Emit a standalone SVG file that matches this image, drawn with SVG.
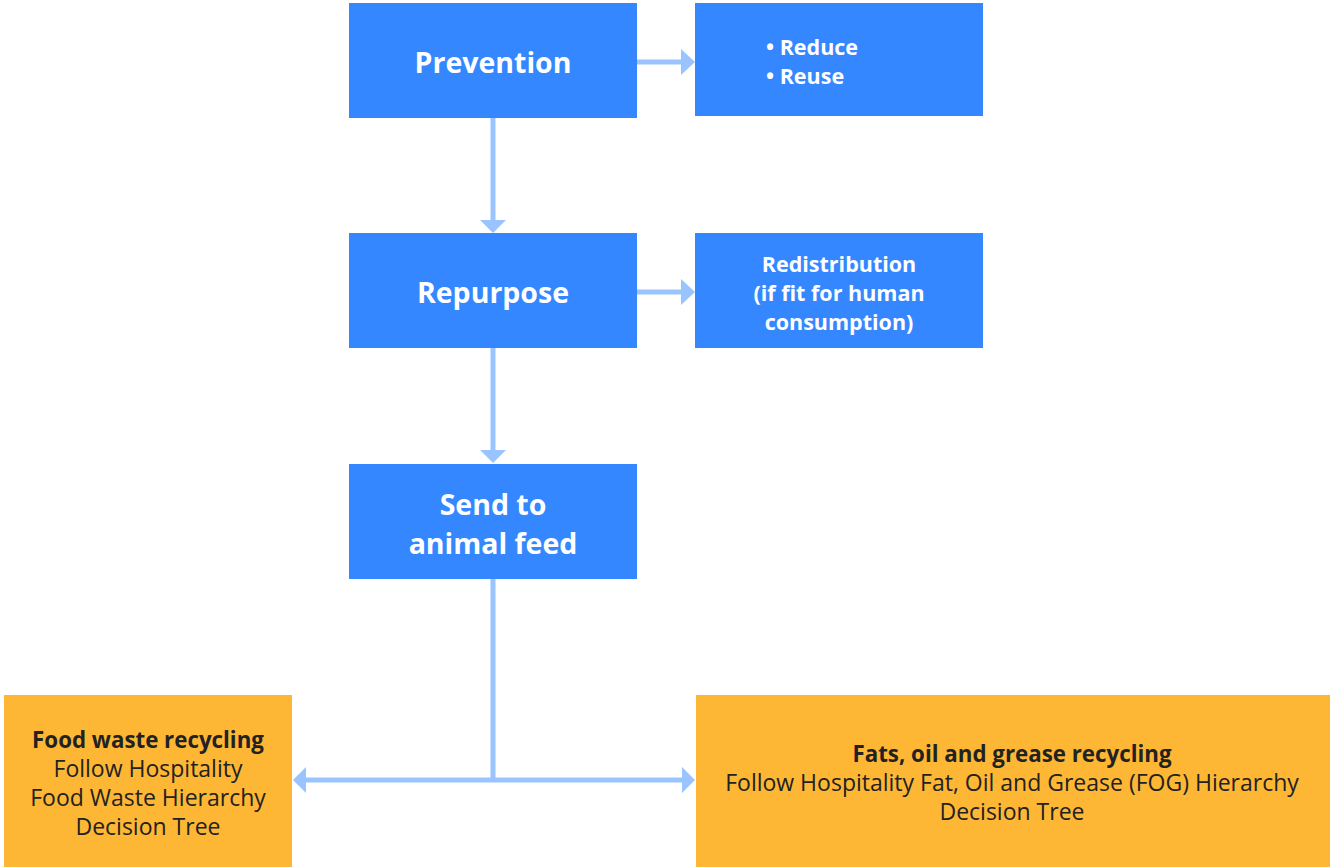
<svg xmlns="http://www.w3.org/2000/svg" width="1330" height="867" viewBox="0 0 1330 867">
<style>
.blue{fill:#3587FF}
.orange{fill:#FDB734}
.big{font-family:"Open Sans","Liberation Sans",sans-serif;font-weight:bold;font-size:28.5px;fill:#fff;text-anchor:middle}
.mid{font-family:"Open Sans","Liberation Sans",sans-serif;font-weight:bold;font-size:21.5px;fill:#fff}
.dk{font-family:"Open Sans","Liberation Sans",sans-serif;font-size:23px;fill:#222;text-anchor:middle}
.b{font-weight:bold;font-size:22.3px}
.con{stroke:#99C4FF;stroke-width:5;fill:none}
.head{fill:#99C4FF}
</style>
<rect width="1330" height="867" fill="#fff"/>
<g id="connectors">
<line class="con" x1="637" y1="62" x2="682" y2="62"/>
<polygon class="head" points="681,49 695,62 681,75"/>
<line class="con" x1="637" y1="292" x2="682" y2="292"/>
<polygon class="head" points="681,279 695,292 681,305"/>
<line class="con" x1="493" y1="118" x2="493" y2="221"/>
<polygon class="head" points="480,220 493,233 506,220"/>
<line class="con" x1="493" y1="348" x2="493" y2="451"/>
<polygon class="head" points="480,450 493,463 506,450"/>
<line class="con" x1="493" y1="579" x2="493" y2="780"/>
<line class="con" x1="305" y1="780" x2="683" y2="780"/>
<polygon class="head" points="306,767 293,780 306,793"/>
<polygon class="head" points="682,767 695,780 682,793"/>
</g>
<g id="prevention"><rect class="blue" x="349" y="3" width="288" height="115"/><text class="big" x="493" y="73">Prevention</text></g>
<g id="reduce-reuse"><rect class="blue" x="695" y="3" width="288" height="113"/><text class="mid" x="766" y="55">• Reduce</text><text class="mid" x="766" y="84">• Reuse</text></g>
<g id="repurpose"><rect class="blue" x="349" y="233" width="288" height="115"/><text class="big" x="493" y="303">Repurpose</text></g>
<g id="redistribution"><rect class="blue" x="695" y="233" width="288" height="115"/><text class="mid" x="839" y="272" text-anchor="middle">Redistribution</text><text class="mid" x="839" y="301" text-anchor="middle">(if fit for human</text><text class="mid" x="839" y="330" text-anchor="middle">consumption)</text></g>
<g id="animal-feed"><rect class="blue" x="349" y="464" width="288" height="115"/><text class="big" x="493" y="515">Send to</text><text class="big" x="493" y="554">animal feed</text></g>
<g id="food-waste"><rect class="orange" x="4" y="695" width="288" height="172"/><text class="dk b" x="148" y="748">Food waste recycling</text><text class="dk" x="148" y="777">Follow Hospitality</text><text class="dk" x="148" y="806">Food Waste Hierarchy</text><text class="dk" x="148" y="835">Decision Tree</text></g>
<g id="fog"><rect class="orange" x="696" y="695" width="634" height="172"/><text class="dk b" x="1012" y="762">Fats, oil and grease recycling</text><text class="dk" x="1012" y="791">Follow Hospitality Fat, Oil and Grease (FOG) Hierarchy</text><text class="dk" x="1012" y="820">Decision Tree</text></g>
</svg>
